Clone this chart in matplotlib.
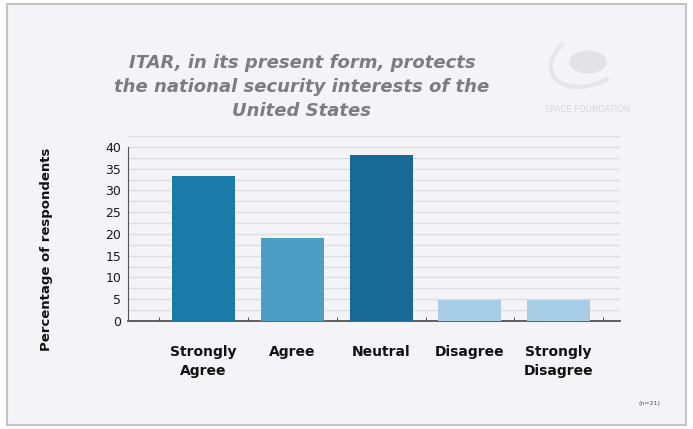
import matplotlib.pyplot as plt
from matplotlib.patches import Rectangle, Circle, Arc
import numpy as np

categories = ["Strongly\nAgree", "Agree", "Neutral", "Disagree", "Strongly\nDisagree"]
percentages = [33.3, 19.0, 38.1, 4.8, 4.8]
bar_colors = ["#1a7aa8", "#4c9ec5", "#176a95", "#a8cde6", "#a8cde6"]
title = "ITAR, in its present form, protects\nthe national security interests of the\nUnited States"
sample_note = "(n=21)"

bg = "#f4f3f8"
fig = plt.figure(figsize=(6.93, 4.29), dpi=100, facecolor="white")

# framed panel, kept behind the axes
fig.patches.append(Rectangle((7 / 693, 4 / 429), 679 / 693, 421 / 429,
                             transform=fig.transFigure, facecolor=bg,
                             edgecolor="#c4c4c8", linewidth=1.5, zorder=-10))

ax = fig.add_axes([128 / 693, 108 / 429, 492 / 693, 185 / 429])
ax.set_facecolor("none")
ax.set_zorder(2)

x = np.arange(len(categories))
ax.bar(x, percentages, width=0.71, color=bar_colors, zorder=3)

ax.set_xlim(-0.85, 4.69)
ax.set_ylim(0, 42.5)
ax.set_yticks(np.arange(0, 41, 5))
ax.set_yticks(np.arange(0, 43, 2.5), minor=True)
ax.yaxis.grid(True, which="both", color="#dcdce3", linewidth=1.0, zorder=0)
ax.tick_params(axis="y", which="both", length=0, pad=5)
ax.set_yticklabels([str(v) for v in range(0, 41, 5)], fontsize=9,
                   color="#1a1a1a")

ax.set_xticks(x)
ax.set_xticklabels(categories, fontsize=10, fontweight="bold",
                   color="#111111", linespacing=1.5)
ax.set_xticks(np.arange(-0.5, 5, 1), minor=True)
ax.tick_params(axis="x", which="major", length=0, pad=17)
ax.tick_params(axis="x", which="minor", length=3, direction="in",
               color="#333333")

for s in ["top", "right"]:
    ax.spines[s].set_visible(False)
ax.spines["left"].set_bounds(0, 40)
ax.spines["left"].set_color("#555555")
ax.spines["bottom"].set_color("#555555")
ax.spines["bottom"].set_linewidth(1.3)

ax.set_ylabel("Percentage of respondents", fontsize=9.5, fontweight="bold",
              color="#111111")
ax.yaxis.set_label_coords(-75 / 492, (321 - 249) / 185)

fig.text(302 / 693, 1 - 87 / 429, title, ha="center", va="center",
         fontsize=13, fontstyle="italic", fontweight="bold",
         color="#7d7d81", linespacing=1.42)

# faint logo
fig.patches.append(Circle((588 / 693, 1 - 62 / 429), 0.027,
                          transform=fig.transFigure, facecolor="#e3e3e7",
                          edgecolor="none", zorder=1))
fig.patches.append(Arc((590 / 693, 1 - 58 / 429), 70 / 693, 62 / 429,
                       angle=-30, theta1=170, theta2=330,
                       transform=fig.transFigure, color="#e6e6ea",
                       linewidth=3, zorder=1))
fig.text(588 / 693, 1 - 110 / 429, "SPACE FOUNDATION", ha="center",
         va="center", fontsize=6, color="#d8d8dc")

fig.text(649 / 693, 1 - 404 / 429, sample_note, ha="center", va="center",
         fontsize=4.5, color="#555555")

fig.savefig("out.png", dpi=100, facecolor="white")
